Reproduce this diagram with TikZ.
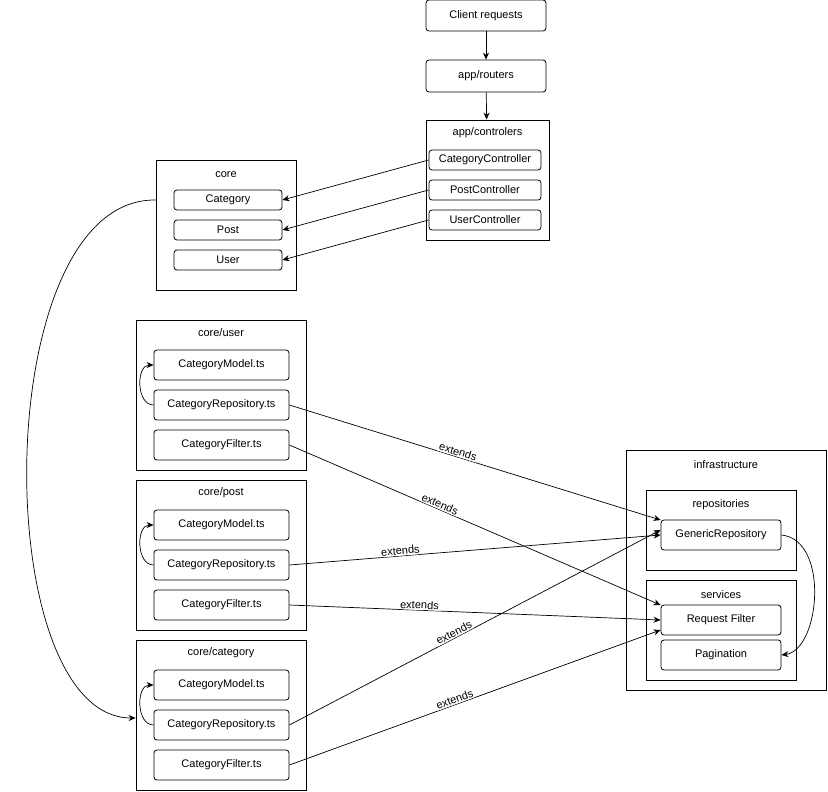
\documentclass[tikz,border=0pt]{standalone}
\usepackage{fontspec}
\setmainfont{Liberation Sans}
\usetikzlibrary{positioning, arrows.meta, calc}

\tikzset{
    item/.style={draw, line width=0.8pt, rounded corners=3pt, minimum width=135pt, minimum height=30pt, inner sep=0pt, font=\fontsize{11}{13}\selectfont},
    small/.style={draw, line width=0.8pt, rounded corners=3pt, minimum width=108pt, minimum height=20pt, inner sep=0pt, font=\fontsize{11}{13}\selectfont},
    group/.style={draw, line width=0.8pt, inner sep=0pt},
    title/.style={font=\fontsize{11}{13}\selectfont, inner sep=1pt},
    arr/.style={-{Stealth[length=7pt, width=6pt]}, line width=0.7pt},
    ext/.style={font=\fontsize{11}{13}\selectfont, sloped, fill=white, inner sep=1pt}
}

\begin{document}
\begin{tikzpicture}[x=1pt, y=-1pt]
    \useasboundingbox (0,0) rectangle (828,792);

    % top chain
    \node[item, minimum width=120pt, minimum height=31pt] (client) at (486,15.5) {Client requests};
    \node[item, minimum width=120pt, minimum height=32pt] (routers) at (486,76) {app/routers};
    \node[group, minimum width=123pt, minimum height=120pt] (ctrl) at (487.5,180) {};
    \node[title] (ctrltitle) at (487.5,133) {app/controlers};
    \node[small, minimum width=112pt] (catctrl) at (485,160) {CategoryController};
    \node[small, minimum width=112pt] (postctrl) at (485,190) {PostController};
    \node[small, minimum width=112pt] (userctrl) at (485,220) {UserController};

    % core
    \node[group, minimum width=140pt, minimum height=130pt] (core) at (226,225) {};
    \node[title] (coretitle) at (226,175) {core};
    \node[small] (cat) at (228,200) {Category};
    \node[small] (post) at (228,230) {Post};
    \node[small] (user) at (228,260) {User};

    % domain modules
    \foreach \name/\lbl/\yy in {u/core\slash user/320, p/core\slash post/480, c/core\slash category/640} {
        \node[group, minimum width=170pt, minimum height=150pt] (\name box) at (221,\yy+75) {};
        \node[title] (\name title) at (221,\yy+13) {\lbl};
        \node[item] (\name model) at (221.5,\yy+45) {CategoryModel.ts};
        \node[item] (\name repo) at (221.5,\yy+85) {CategoryRepository.ts};
        \node[item] (\name filter) at (221.5,\yy+125) {CategoryFilter.ts};
        \draw[arr] (\name repo.west) .. controls (136,\yy+85) and (136,\yy+45) .. (\name model.west);
    }

    % infrastructure
    \node[group, minimum width=200pt, minimum height=240pt] (infra) at (726,570) {};
    \node[title] (infratitle) at (726,465) {infrastructure};
    \node[group, minimum width=150pt, minimum height=80pt] (repos) at (721,530) {};
    \node[title] (repostitle) at (721,505) {repositories};
    \node[item, minimum width=120pt] (generic) at (721,535) {GenericRepository};
    \node[group, minimum width=150pt, minimum height=100pt] (services) at (721,630) {};
    \node[title] (servicestitle) at (721,595) {services};
    \node[item, minimum width=120pt] (reqfilter) at (721,620) {Request Filter};
    \node[item, minimum width=120pt] (pagination) at (721,655) {Pagination};

    % connectors
    \draw[arr] (client) -- (routers);
    \draw[arr] (routers) -- (ctrl);
    \draw[arr] (catctrl.west) -- (cat.east);
    \draw[arr] (postctrl.west) -- (post.east);
    \draw[arr] (userctrl.west) -- (user.east);
    \draw[arr] (core.west |- cat) .. controls (-12,198) and (-12,718) .. (cbox.west |- 0,718);

    \draw[arr] (urepo.east) -- node[ext, pos=0.45, above] {extends} (generic.west |- 0,520);
    \draw[arr] (ufilter.east) -- node[ext, pos=0.4, above] {extends} (reqfilter.west |- 0,605);
    \draw[arr] (prepo.east) -- node[ext, pos=0.3, above] {extends} (generic.west |- 0,535);
    \draw[arr] (pfilter.east) -- node[ext, pos=0.35, above] {extends} (reqfilter.west |- 0,620);
    \draw[arr] (crepo.east) -- node[ext, pos=0.45, above] {extends} (generic.west |- 0,530);
    \draw[arr] (cfilter.east) -- node[ext, pos=0.45, above] {extends} (reqfilter.west |- 0,630);
    \draw[arr] (generic.east) .. controls (830,540) and (820,650) .. (pagination.east);
\end{tikzpicture}
\end{document}
